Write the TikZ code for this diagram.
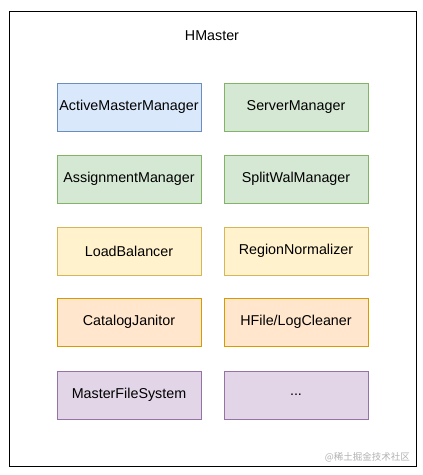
\documentclass[tikz,border=0pt]{standalone}
\usepackage{fontspec}
\setmainfont{Liberation Sans}
\newfontfamily\cjk{Noto Sans CJK SC}
\definecolor{bfill}{HTML}{DAE8FC}\definecolor{bline}{HTML}{6C8EBF}
\definecolor{gfill}{HTML}{D5E8D4}\definecolor{gline}{HTML}{82B366}
\definecolor{yfill}{HTML}{FFF2CC}\definecolor{yline}{HTML}{D6B656}
\definecolor{ofill}{HTML}{FFE6CC}\definecolor{oline}{HTML}{D79B00}
\definecolor{pfill}{HTML}{E1D5E7}\definecolor{pline}{HTML}{9673A6}
\begin{document}
\begin{tikzpicture}[x=1pt,y=-1pt,
  comp/.style={draw, line width=0.9pt, minimum width=144pt, minimum height=48pt, inner sep=0pt, font=\fontsize{14.3}{16}\selectfont},
  blue/.style={comp, fill=bfill, draw=bline},
  green/.style={comp, fill=gfill, draw=gline},
  yellow/.style={comp, fill=yfill, draw=yline},
  orange/.style={comp, fill=ofill, draw=oline},
  purple/.style={comp, fill=pfill, draw=pline}]
\useasboundingbox (0,0) rectangle (423,475);
\fill[white] (0,0) rectangle (423,475);
\node[draw, line width=1pt, minimum width=407pt, minimum height=455pt, inner sep=0pt] (outer) at (212.5,238.5) {};
\node[font=\fontsize{14.3}{16}\selectfont] (title) at (212,36) {HMaster};
\node[blue] (amm) at (129,107) {ActiveMasterManager};
\node[green] (sm) at (296,107) {ServerManager};
\node[green] (am) at (129,179) {AssignmentManager};
\node[green] (swm) at (296,179) {SplitWalManager};
\node[yellow] (lb) at (129,251) {LoadBalancer};
\node[yellow] (rn) at (296,251) {RegionNormalizer};
\node[orange] (cj) at (129,322) {CatalogJanitor};
\node[orange] (hlc) at (296,322) {HFile/LogCleaner};
\node[purple] (mfs) at (129,395) {MasterFileSystem};
\node[purple] (etc) at (296,395) {...};
\node[font=\cjk\fontsize{9.5}{10}\selectfont, text=black!30, anchor=east, inner sep=0pt] (wm) at (410,457) {@稀土掘金技术社区};
\end{tikzpicture}
\end{document}
